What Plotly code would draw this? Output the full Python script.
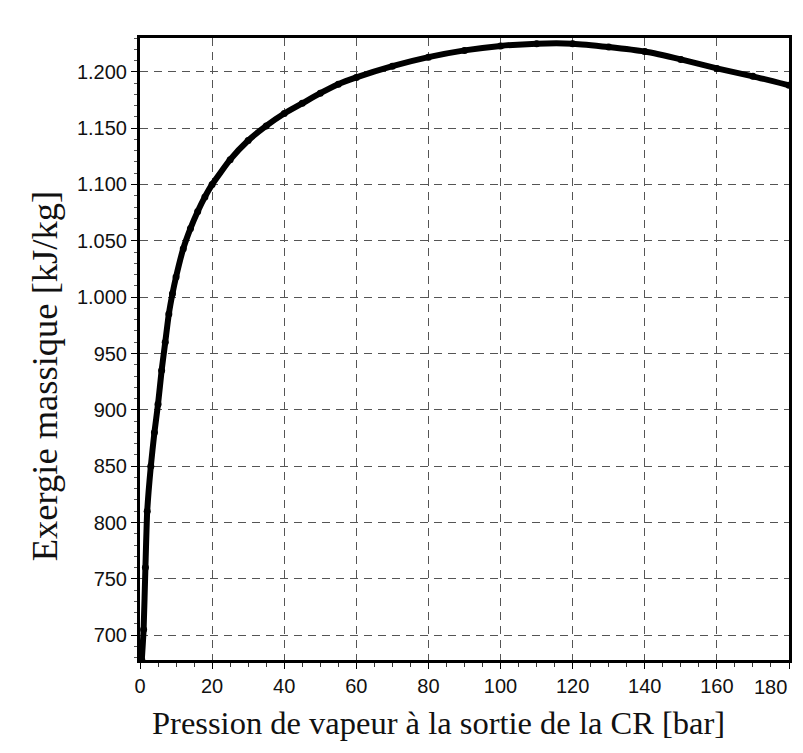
import plotly.graph_objects as go

pression = [0.5, 1, 1.5, 2, 3, 4, 5, 6, 7, 8, 9, 10, 12, 14, 16, 18, 20, 25, 30, 35,
            40, 45, 50, 55, 60, 70, 80, 90, 100, 110, 120, 130, 140, 150, 160, 170, 180]
exergie = [678, 705, 760, 810, 850, 880, 905, 935, 960, 985, 1003, 1018, 1043, 1061,
           1076, 1089, 1100, 1122, 1139, 1152, 1163, 1172, 1181, 1189, 1195, 1205,
           1213, 1219, 1223, 1225, 1225, 1222, 1218, 1211, 1203, 1196, 1188]

x_ticks = [0, 20, 40, 60, 80, 100, 120, 140, 160, 180]
y_ticks = [700, 750, 800, 850, 900, 950, 1000, 1050, 1100, 1150, 1200]

x_title = "Pression de vapeur à la sortie de la CR [bar]"
y_title = "Exergie massique [kJ/kg]"

fig = go.Figure()
fig.add_trace(go.Scatter(
    x=pression, y=exergie, mode="lines+markers",
    line=dict(color="black", width=6, shape="spline", smoothing=0.5),
    marker=dict(color="black", size=7),
    showlegend=False, cliponaxis=True,
))

tickfont = dict(family="Liberation Sans, Arial, sans-serif", size=20, color="#111")
serif = "Liberation Serif, Times New Roman, serif"

# last x label sits at the plot edge; draw it right-aligned like the original
x_ticktext = [str(v) for v in x_ticks[:-1]] + [""]

fig.update_layout(
    width=795, height=745,
    margin=dict(l=132, r=14, t=30, b=93),
    paper_bgcolor="white", plot_bgcolor="white",
    separators=",.",
    xaxis=dict(
        range=[0, 180], tickvals=x_ticks, ticktext=x_ticktext,
        showgrid=True, gridcolor="#555", griddash="8px,6px", gridwidth=1.4,
        showline=True, linecolor="black", linewidth=3, mirror=True,
        ticks="outside", ticklen=6, tickcolor="black", tickwidth=1.3,
        minor=dict(dtick=5, ticks="outside", ticklen=4, tickcolor="#333", showgrid=False),
        tickfont=tickfont, zeroline=False, automargin=False,
    ),
    yaxis=dict(
        range=[678, 1230], tickvals=y_ticks, tickformat=",d",
        showgrid=True, gridcolor="#555", griddash="8px,6px", gridwidth=1.4,
        showline=True, linecolor="black", linewidth=3, mirror=True,
        ticks="outside", ticklen=6, tickcolor="black", tickwidth=1.3,
        minor=dict(dtick=10, ticks="outside", ticklen=3, tickcolor="#555", showgrid=False),
        tickfont=tickfont, zeroline=False, automargin=False,
    ),
    annotations=[
        dict(text=str(x_ticks[-1]), xref="x", x=x_ticks[-1], yref="paper", y=0,
             xanchor="right", yanchor="top", yshift=-14, showarrow=False, font=tickfont),
        dict(text=x_title, xref="paper", x=0.46, yref="paper", y=-0.101,
             xanchor="center", yanchor="middle", showarrow=False,
             font=dict(family=serif, size=32.5, color="#111")),
        dict(text=y_title, xref="paper", x=-0.146, yref="paper", y=0.4566,
             xanchor="center", yanchor="middle", textangle=-90, showarrow=False,
             font=dict(family=serif, size=36.5, color="#111")),
    ],
)

fig.write_html("out.html")
